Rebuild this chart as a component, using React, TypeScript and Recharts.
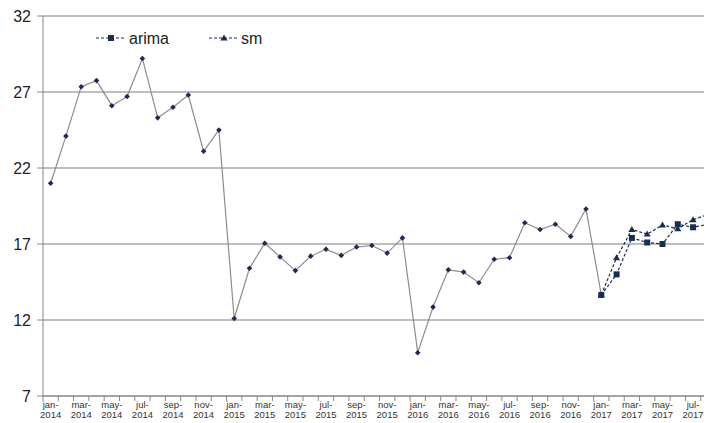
import { LineChart, Line, XAxis, YAxis, CartesianGrid } from "recharts";

// ── Data ──────────────────────────────────────────────────────────────────────

const months = [
  "jan-2014", "feb-2014", "mar-2014", "apr-2014", "may-2014", "jun-2014",
  "jul-2014", "aug-2014", "sep-2014", "oct-2014", "nov-2014", "dec-2014",
  "jan-2015", "feb-2015", "mar-2015", "apr-2015", "may-2015", "jun-2015",
  "jul-2015", "aug-2015", "sep-2015", "oct-2015", "nov-2015", "dec-2015",
  "jan-2016", "feb-2016", "mar-2016", "apr-2016", "may-2016", "jun-2016",
  "jul-2016", "aug-2016", "sep-2016", "oct-2016", "nov-2016", "dec-2016",
  "jan-2017", "feb-2017", "mar-2017", "apr-2017", "may-2017", "jun-2017",
  "jul-2017", "aug-2017",
];

const actual = [
  21.0, 24.1, 27.35, 27.75, 26.1, 26.7, 29.2, 25.3, 26.0, 26.8, 23.1, 24.5,
  12.1, 15.4, 17.05, 16.15, 15.25, 16.2, 16.65, 16.25, 16.8, 16.9, 16.4, 17.4,
  9.85, 12.85, 15.3, 15.15, 14.45, 16.0, 16.1, 18.4, 17.95, 18.3, 17.5, 19.3,
  13.65,
];

// forecasts start at jan-2017
const forecastStart = 36;
const arima = [13.65, 15.0, 17.4, 17.1, 17.0, 18.3, 18.1, 18.3];
const sm = [13.65, 16.1, 17.95, 17.65, 18.25, 18.0, 18.6, 18.95];

const yTicks = [7, 12, 17, 22, 27, 32];

const data = months.map((m, i) => ({
  month: m,
  actual: i < actual.length ? actual[i] : null,
  arima: i >= forecastStart ? arima[i - forecastStart] : null,
  sm: i >= forecastStart ? sm[i - forecastStart] : null,
}));

// ── Styling ───────────────────────────────────────────────────────────────────

const NAVY = "#1b2c52";
const FONT = "'Liberation Sans', Arial, sans-serif";
const BAND = 15.28;

// ── Markers ───────────────────────────────────────────────────────────────────

function Diamond(props: any) {
  const { cx, cy, index } = props;
  if (cx == null || cy == null) return <g key={`d-${index}`} />;
  const r = 2.8;
  return (
    <path
      key={`d-${index}`}
      d={`M${cx},${cy - r}L${cx + r},${cy}L${cx},${cy + r}L${cx - r},${cy}Z`}
      fill={NAVY}
    />
  );
}

function Square(props: any) {
  const { cx, cy, index } = props;
  if (cx == null || cy == null) return <g key={`s-${index}`} />;
  return <rect key={`s-${index}`} x={cx - 3} y={cy - 3} width={6} height={6} fill={NAVY} />;
}

function Triangle(props: any) {
  const { cx, cy, index } = props;
  if (cx == null || cy == null) return <g key={`t-${index}`} />;
  return (
    <path
      key={`t-${index}`}
      d={`M${cx},${cy - 3.5}L${cx + 3.5},${cy + 2.5}L${cx - 3.5},${cy + 2.5}Z`}
      fill={NAVY}
    />
  );
}

// ── Axis ticks ────────────────────────────────────────────────────────────────

function MonthTick(props: any) {
  const { x, y, payload, index } = props;
  const label = String(payload.value);
  const [mon, yr] = label.split("-");
  const left = x - BAND / 2;
  const isLast = index === months.length - 1;
  return (
    <g>
      <line x1={left} y1={y - 8} x2={left} y2={y - 3} stroke="#888" />
      {isLast && <line x1={left + BAND} y1={y - 8} x2={left + BAND} y2={y - 3} stroke="#888" />}
      {index % 2 === 0 && (
        <text x={x} y={y} textAnchor="middle" fontSize={9.5} fill="#333" fontFamily={FONT}>
          <tspan x={x} dy={4}>{mon}-</tspan>
          <tspan x={x} dy={10}>{yr}</tspan>
        </text>
      )}
    </g>
  );
}

function LegendBox() {
  return (
    <svg width={200} height={22} style={{ display: "block" }}>
      <line x1={2} y1={11} x2={32} y2={11} stroke={NAVY} strokeDasharray="3 2" />
      <rect x={14} y={8} width={6} height={6} fill={NAVY} />
      <text x={35} y={17} fontSize={16} fill="#222" fontFamily={FONT}>arima</text>
      <line x1={115} y1={11} x2={144} y2={11} stroke={NAVY} strokeDasharray="3 2" />
      <path d="M130,7.5L133.5,13.5L126.5,13.5Z" fill={NAVY} />
      <text x={147} y={17} fontSize={16} fill="#222" fontFamily={FONT}>sm</text>
    </svg>
  );
}

// ── Main ──────────────────────────────────────────────────────────────────────

export default function App() {
  return (
    <div
      style={{
        margin: "-8px 0 0 -8px",
        width: 712,
        height: 423,
        overflow: "hidden",
        background: "#fff",
        position: "relative",
      }}
    >
      <LineChart
        width={716}
        height={423}
        data={data}
        margin={{ top: 16, right: 0, left: 0, bottom: 0 }}
        style={{ fontFamily: FONT }}
      >
        <CartesianGrid vertical={false} stroke="#a8a8a8" strokeWidth={1.5} />
        <XAxis
          dataKey="month"
          interval={0}
          height={27}
          padding={{ left: BAND / 2, right: BAND / 2 }}
          tickLine={false}
          axisLine={{ stroke: "#888" }}
          tick={<MonthTick />}
        />
        <YAxis
          domain={[7, 32]}
          ticks={yTicks}
          width={43}
          axisLine={{ stroke: "#888" }}
          tickLine={{ stroke: "#888" }}
          tickSize={6}
          tickMargin={6}
          tick={{ fontSize: 16, fill: "#222", fontFamily: FONT }}
        />
        <Line
          dataKey="actual"
          stroke="#8c8c8c"
          strokeWidth={1.2}
          dot={<Diamond />}
          activeDot={false}
          isAnimationActive={false}
          connectNulls={false}
        />
        <Line
          dataKey="arima"
          stroke={NAVY}
          strokeWidth={1.2}
          strokeDasharray="3 2"
          dot={<Square />}
          activeDot={false}
          isAnimationActive={false}
        />
        <Line
          dataKey="sm"
          stroke={NAVY}
          strokeWidth={1.2}
          strokeDasharray="3 2"
          dot={<Triangle />}
          activeDot={false}
          isAnimationActive={false}
        />
      </LineChart>
      <div style={{ position: "absolute", left: 94, top: 27 }}>
        <LegendBox />
      </div>
    </div>
  );
}
